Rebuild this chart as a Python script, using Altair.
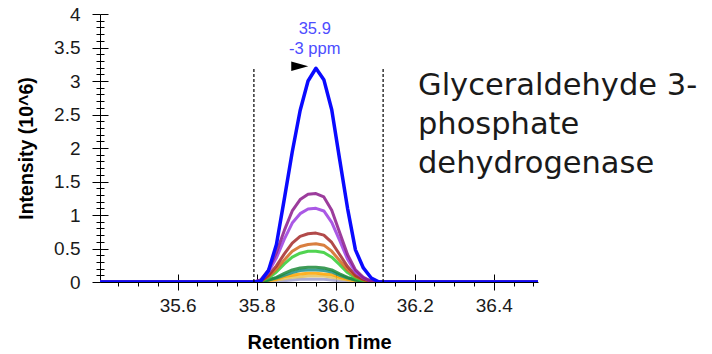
import altair as alt
import pandas as pd

# ---------------- data ----------------
times = [35.40, 35.79, 35.81, 35.83, 35.85, 35.87, 35.89, 35.91, 35.93, 35.95,
         35.97, 35.99, 36.01, 36.03, 36.05, 36.07, 36.09, 36.11, 36.52]

series_names = ["lavender", "gold", "orange", "darkcyan", "green", "limegreen",
                "chocolate", "brown", "blueviolet", "purple", "blue"]
series_colors = ["#9c9ccc", "#e6c35a", "#ffa500", "#1f8f86", "#1d8a3a", "#32cd32",
                 "#d2691e", "#a52a2a", "#9b3ce0", "#8b1a8b", "#0a0aff"]

lavender   = [0, 0, 0, 0.01, 0.01, 0.02, 0.03, 0.04, 0.04, 0.04, 0.04, 0.03, 0.02, 0.01, 0.01, 0, 0, 0, 0]
gold       = [0, 0, 0, 0.01, 0.03, 0.05, 0.07, 0.08, 0.09, 0.09, 0.09, 0.07, 0.05, 0.03, 0.01, 0, 0, 0, 0]
orange     = [0, 0, 0, 0.02, 0.04, 0.08, 0.10, 0.12, 0.13, 0.13, 0.12, 0.11, 0.07, 0.04, 0.02, 0.01, 0, 0, 0]
darkcyan   = [0, 0, 0, 0.03, 0.06, 0.10, 0.14, 0.17, 0.18, 0.18, 0.17, 0.15, 0.10, 0.06, 0.03, 0.01, 0, 0, 0]
green      = [0, 0, 0, 0.03, 0.07, 0.13, 0.18, 0.21, 0.22, 0.22, 0.21, 0.18, 0.12, 0.07, 0.03, 0.01, 0, 0, 0]
limegreen  = [0, 0, 0.01, 0.06, 0.15, 0.27, 0.37, 0.43, 0.46, 0.46, 0.44, 0.37, 0.26, 0.14, 0.06, 0.02, 0, 0, 0]
chocolate  = [0, 0, 0.01, 0.08, 0.19, 0.33, 0.46, 0.53, 0.56, 0.57, 0.55, 0.46, 0.32, 0.18, 0.08, 0.03, 0.01, 0, 0]
brown      = [0, 0, 0.01, 0.10, 0.24, 0.42, 0.58, 0.68, 0.72, 0.73, 0.70, 0.59, 0.41, 0.23, 0.10, 0.04, 0.01, 0, 0]
blueviolet = [0, 0, 0.02, 0.15, 0.36, 0.64, 0.88, 1.02, 1.09, 1.10, 1.06, 0.89, 0.62, 0.34, 0.15, 0.06, 0.01, 0, 0]
purple     = [0, 0, 0.03, 0.18, 0.44, 0.77, 1.06, 1.23, 1.31, 1.32, 1.27, 1.07, 0.74, 0.41, 0.18, 0.07, 0.01, 0, 0]
blue       = [0, 0, 0.01, 0.17, 0.56, 1.24, 1.94, 2.56, 3.00, 3.19, 3.02, 2.57, 1.83, 1.10, 0.48, 0.21, 0.06, 0.0, 0]

series_values = [lavender, gold, orange, darkcyan, green, limegreen,
                 chocolate, brown, blueviolet, purple, blue]

boundary_times = [35.793, 36.120]
boundary_top = 3.2

peak_time = 35.947
peak_intensity = 3.19
peak_label = "35.9\n-3 ppm"
arrow_time = 35.909
arrow_intensity = 3.22

x_major = [35.6, 35.8, 36.0, 36.2, 36.4]
x_minor = [35.45, 35.5, 35.55, 35.65, 35.7, 35.75, 35.85, 35.9, 35.95,
           36.05, 36.1, 36.15, 36.25, 36.3, 36.35, 36.45, 36.5]
y_major = [0, 0.5, 1, 1.5, 2, 2.5, 3, 3.5, 4]
y_minor = [0.1, 0.2, 0.3, 0.4, 0.6, 0.7, 0.8, 0.9, 1.1, 1.2, 1.3, 1.4,
           1.6, 1.7, 1.8, 1.9, 2.1, 2.2, 2.3, 2.4, 2.6, 2.7, 2.8, 2.9,
           3.1, 3.2, 3.3, 3.4, 3.6, 3.7, 3.8, 3.9]

side_text = "Glyceraldehyde 3-\nphosphate\ndehydrogenase"

# ---------------- build ----------------
rows = []
for name, vals in zip(series_names, series_values):
    for t, v in zip(times, vals):
        rows.append({"t": t, "i": v, "series": name})
df = pd.DataFrame(rows)

W, H = 438, 268
X_DOMAIN = [35.4035, 36.512]
Y_DOMAIN = [0, 4]
FONT = "Liberation Sans"

xscale = alt.Scale(domain=X_DOMAIN, nice=False, zero=False)
yscale = alt.Scale(domain=Y_DOMAIN, nice=False)

main_x_axis = alt.Axis(orient="bottom", values=x_major, format=".1f", tickSize=8,
                       labelPadding=6, labelFontSize=19, labelFont=FONT,
                       labelColor="#1a1a1a", title="Retention Time", titleFont=FONT,
                       titleFontSize=20, titleFontWeight="bold", titleColor="#000000",
                       titleY=60, titleBaseline="middle",
                       domainColor="#000000", tickColor="#000000", grid=False,
                       labelFlush=False)
main_y_axis = alt.Axis(orient="left", values=y_major, format="~g", tickSize=8,
                       labelPadding=12, labelFontSize=19, labelFont=FONT,
                       labelColor="#1a1a1a", title="Intensity (10^6)", titleFont=FONT,
                       titleFontSize=19.5, titleFontWeight="bold", titleColor="#000000",
                       titleX=-74, titleY=H / 2, titleAlign="center",
                       titleBaseline="middle", titleAngle=270,
                       domainColor="#000000", tickColor="#000000", grid=False,
                       labelFlush=False)

# one layer per series so that blue is drawn last (on top)
line_layers = []
for k, (name, col) in enumerate(zip(series_names, series_colors)):
    sw = 3.5 if name == "blue" else 3.0
    op = 1.0 if name == "blue" else 0.85
    xa = main_x_axis if k == 0 else None
    ya = main_y_axis if k == 0 else None
    line_layers.append(
        alt.Chart(df[df.series == name]).mark_line(strokeWidth=sw, clip=True, opacity=op,
                                                   color=col, strokeJoin="round").encode(
            x=alt.X("t:Q", scale=xscale, axis=xa),
            y=alt.Y("i:Q", scale=yscale, axis=ya),
        )
    )

bdf = pd.DataFrame({"t": boundary_times, "lo": [0] * len(boundary_times),
                    "hi": [boundary_top] * len(boundary_times)})

# minor outward ticks
minor_x_axis = alt.Axis(orient="bottom", values=x_minor, tickSize=4, labels=False,
                        domain=False, title=None, tickColor="#000000", grid=False)
minor_y_axis = alt.Axis(orient="left", values=y_minor, tickSize=4, labels=False,
                        domain=False, title=None, tickColor="#000000", grid=False)
boundaries = alt.Chart(bdf).mark_rule(color="#000000", strokeWidth=1.2,
                                      strokeDash=[3, 2]).encode(
    x=alt.X("t:Q", scale=xscale, axis=minor_x_axis),
    y=alt.Y("lo:Q", scale=yscale, axis=minor_y_axis),
    y2="hi:Q",
)

# inward halves of the crossing ticks
in_x_axis = alt.Axis(orient="bottom", values=x_major, tickSize=8, offset=-8,
                     labels=False, domain=False, title=None, tickColor="#000000",
                     grid=False)
in_y_axis = alt.Axis(orient="left", values=y_major, tickSize=8, offset=-8,
                     labels=False, domain=False, title=None, tickColor="#000000",
                     grid=False)
in_minor_y_axis = alt.Axis(orient="left", values=y_minor, tickSize=4, offset=-4,
                           labels=False, domain=False, title=None,
                           tickColor="#000000", grid=False)

adf = pd.DataFrame({"t": [arrow_time], "i": [arrow_intensity]})
arrow = alt.Chart(adf).mark_point(shape="M-1,-0.55L1,0L-1,0.55Z", size=289, filled=True,
                                  color="#000000", opacity=1).encode(
    x=alt.X("t:Q", scale=xscale, axis=in_x_axis),
    y=alt.Y("i:Q", scale=yscale, axis=in_y_axis),
)

pdf = pd.DataFrame({"t": [peak_time], "i": [peak_intensity], "label": [peak_label]})
label = alt.Chart(pdf).mark_text(color="#4d4dff", fontSize=16.5, font=FONT,
                                 lineBreak="\n", lineHeight=20, baseline="alphabetic",
                                 align="center", dy=-34).encode(
    x=alt.X("t:Q", scale=xscale, axis=None),
    y=alt.Y("i:Q", scale=yscale, axis=in_minor_y_axis),
    text="label:N",
)

sdf = pd.DataFrame({"txt": [side_text]})
side = alt.Chart(sdf).mark_text(fontSize=30.5, font="DejaVu Sans", color="#1a1a1a",
                                lineBreak="\n", lineHeight=39, align="left",
                                baseline="alphabetic").encode(
    x=alt.value(318), y=alt.value(81), text="txt:N")

chart = alt.layer(*line_layers, boundaries, arrow, label, side).resolve_axis(
    x="independent", y="independent"
).properties(
    width=W, height=H,
    autosize=alt.AutoSizeParams(type="none"),
    padding={"left": 100, "top": 14, "right": 174, "bottom": 72},
    background="#ffffff",
).configure_view(stroke=None)

chart.save("out.html", embed_options={"renderer": "svg", "actions": False})
